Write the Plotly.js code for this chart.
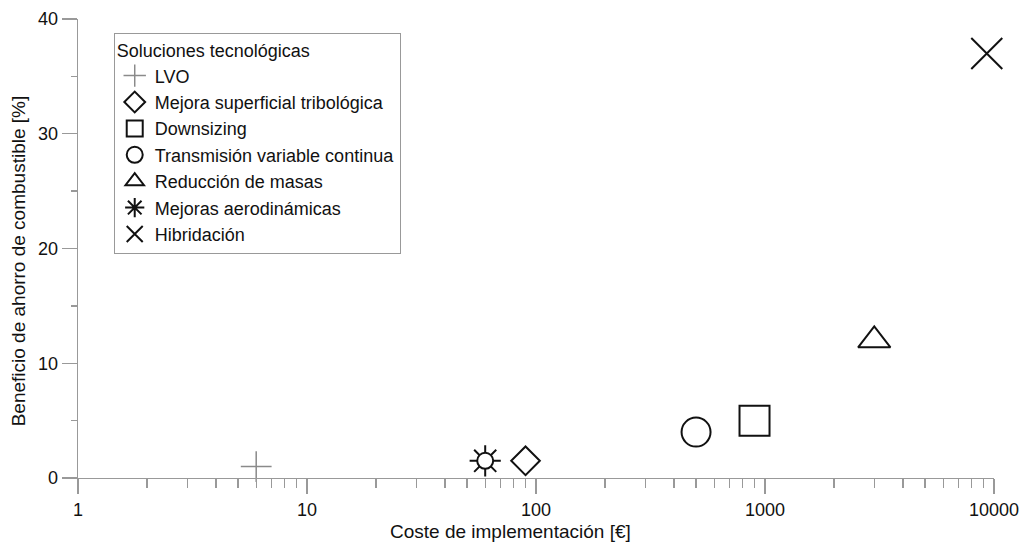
<!DOCTYPE html>
<html>
<head>
<meta charset="utf-8">
<script src="https://cdn.plot.ly/plotly-3.0.1.min.js"></script>
<style>html,body{margin:0;padding:0;background:#fff;}#chart{width:1026px;height:544px;}</style>
</head>
<body>
<div id="chart"></div>
<script>
var techNames = ["LVO", "Mejora superficial tribológica", "Downsizing", "Transmisión variable continua", "Reducción de masas", "Mejoras aerodinámicas", "Hibridación"];
var costs = [6, 90, 900, 500, 3000, 60, 9300];
var savings = [1, 1.5, 5, 4, 12, 1.5, 37];
var symbols = ["cross-thin-open", "diamond-open", "square-open", "circle-open", "triangle-up-open", "asterisk-open", "x-thin-open"];
var sizes = [22, 22, 30, 29, 28, 26, 31];
var colors = ["#8a8a8a", "#111", "#111", "#111", "#111", "#111", "#111"];
var widths = [1.5, 2, 2, 2, 2, 2, 2];

var xTickVals = [1, 10, 100, 1000, 10000];
var xTickText = ["1", "10", "100", "1000", "10000"];
var yTickVals = [0, 10, 20, 30, 40];
var xTitle = "Coste de implementación [€]";
var yTitle = "Beneficio de ahorro de combustible [%]";
var legendTitle = "Soluciones tecnológicas";

var traces = [];
for (var i = 0; i < techNames.length; i++) {
  traces.push({
    type: "scatter", mode: "markers", name: techNames[i],
    x: [costs[i]], y: [savings[i]],
    cliponaxis: false,
    marker: {symbol: symbols[i], size: sizes[i], color: colors[i], line: {color: colors[i], width: widths[i]}},
    hoverinfo: "x+y+name"
  });
  if (symbols[i] === "asterisk-open") {
    traces.push({
      type: "scatter", mode: "markers", name: techNames[i], showlegend: false,
      x: [costs[i]], y: [savings[i]], cliponaxis: false,
      marker: {symbol: "circle", size: 16, color: "#fff", line: {color: "#111", width: 2}},
      hoverinfo: "skip"
    });
  }
}

var fontFam = "Liberation Sans, Arial, sans-serif";
var layout = {
  width: 1026, height: 544,
  margin: {l: 78, r: 32, t: 19, b: 66},
  paper_bgcolor: "#fff", plot_bgcolor: "#fff",
  font: {family: fontFam, size: 18, color: "#111"},
  showlegend: true,
  legend: {
    x: 0.039, y: 0.9695, xanchor: "left", yanchor: "top",
    bgcolor: "#fff", bordercolor: "#999", borderwidth: 1,
    font: {family: fontFam, size: 18, color: "#111"},
    title: {text: legendTitle, font: {family: fontFam, size: 18, color: "#111"}},
    tracegroupgap: 0
  },
  xaxis: {
    type: "log", range: [0, 4],
    tickmode: "array", tickvals: xTickVals, ticktext: xTickText,
    ticks: "outside", ticklen: 15, tickwidth: 1.3, tickcolor: "#999",
    minor: {ticks: "outside", ticklen: 9, tickwidth: 1.3, tickcolor: "#999", dtick: "D1", showgrid: false},
    showline: true, linecolor: "#999", linewidth: 1.3,
    showgrid: false, zeroline: false,
    tickfont: {family: fontFam, size: 18, color: "#111"}
  },
  yaxis: {
    range: [0, 40],
    tickmode: "array", tickvals: yTickVals,
    ticks: "outside", ticklen: 15, tickwidth: 1.3, tickcolor: "#999",
    minor: {ticks: "outside", ticklen: 6, tickwidth: 1.3, tickcolor: "#999", dtick: 5, showgrid: false},
    showline: true, linecolor: "#999", linewidth: 1.3,
    showgrid: false, zeroline: false,
    tickfont: {family: fontFam, size: 18, color: "#111"}
  },
  annotations: [
    {text: xTitle, xref: "paper", yref: "paper", x: 0.4727, y: -0.116, xanchor: "center", yanchor: "middle",
     showarrow: false, font: {family: fontFam, size: 19, color: "#111"}},
    {text: yTitle, xref: "paper", yref: "paper", x: -0.0655, y: 0.472, xanchor: "center", yanchor: "middle",
     textangle: -90, showarrow: false, font: {family: fontFam, size: 19, color: "#111"}}
  ]
};

Plotly.newPlot("chart", traces, layout, {displayModeBar: false, staticPlot: true});
</script>
</body>
</html>
